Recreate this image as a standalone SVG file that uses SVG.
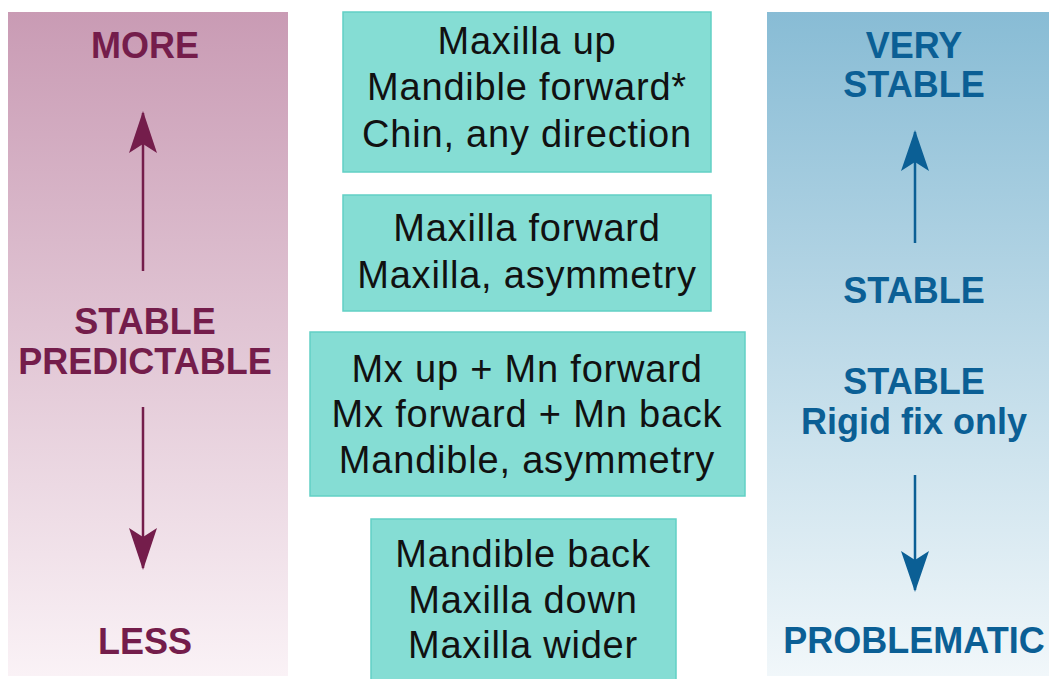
<svg xmlns="http://www.w3.org/2000/svg" width="1049" height="679" viewBox="0 0 1049 679">
<defs>
<linearGradient id="gl" x1="0" y1="0" x2="0" y2="1"><stop offset="0" stop-color="#c99bb4"/><stop offset="1" stop-color="#faf2f6"/></linearGradient>
<linearGradient id="gr" x1="0" y1="0" x2="0" y2="1"><stop offset="0" stop-color="#88bcd5"/><stop offset="1" stop-color="#f1f7fa"/></linearGradient>
<style>
.box{fill:#85ddd4;stroke:#62d0c5;stroke-width:1.5}
.mt{font-family:"Liberation Sans",Arial,sans-serif;font-size:38px;letter-spacing:0.8px;fill:#111;text-anchor:middle}
.lp{font-family:"Liberation Sans",Arial,sans-serif;font-size:36px;font-weight:bold;fill:#741d4b;text-anchor:middle}
.rb{font-family:"Liberation Sans",Arial,sans-serif;font-size:36px;font-weight:bold;fill:#0b5f95;text-anchor:middle}
</style>
</defs>
<rect width="1049" height="679" fill="#ffffff"/>
<g id="left-panel">
<rect x="8" y="12" width="280" height="664" fill="url(#gl)"/>
<text class="lp" x="145" y="58">MORE</text>
<text class="lp" x="145" y="334">STABLE</text>
<text class="lp" x="145" y="374">PREDICTABLE</text>
<text class="lp" x="145" y="654">LESS</text>
</g>
<g id="right-panel">
<rect x="767" y="12" width="282" height="664" fill="url(#gr)"/>
<text class="rb" x="914" y="58">VERY</text>
<text class="rb" x="914" y="97">STABLE</text>
<text class="rb" x="914" y="303">STABLE</text>
<text class="rb" x="914" y="394">STABLE</text>
<text class="rb" x="914" y="434">Rigid fix only</text>
<text class="rb" x="914" y="653">PROBLEMATIC</text>
</g>
<g id="box1">
<rect class="box" x="343" y="12" width="368" height="160"/>
<text class="mt" x="527" y="54">Maxilla up</text>
<text class="mt" x="527" y="100">Mandible forward*</text>
<text class="mt" x="527" y="147">Chin, any direction</text>
</g>
<g id="box2">
<rect class="box" x="343" y="195" width="368" height="116"/>
<text class="mt" x="527" y="241">Maxilla forward</text>
<text class="mt" x="527" y="288">Maxilla, asymmetry</text>
</g>
<g id="box3">
<rect class="box" x="310" y="332" width="435" height="164"/>
<text class="mt" x="527" y="382">Mx up + Mn forward</text>
<text class="mt" x="527" y="427">Mx forward + Mn back</text>
<text class="mt" x="527" y="473">Mandible, asymmetry</text>
</g>
<g id="box4">
<rect class="box" x="371" y="519" width="305" height="165"/>
<text class="mt" x="523" y="567">Mandible back</text>
<text class="mt" x="523" y="613">Maxilla down</text>
<text class="mt" x="523" y="658">Maxilla wider</text>
</g>
<g id="connectors" stroke-width="2.5">
<line x1="143" y1="271" x2="143" y2="113" stroke="#741d4b"/>
<path d="M143,111 L157,153 L143,144 L129,153 Z" fill="#741d4b"/>
<line x1="143" y1="407" x2="143" y2="568" stroke="#741d4b"/>
<path d="M143,570 L157,528 L143,537 L129,528 Z" fill="#741d4b"/>
<line x1="915" y1="243" x2="915" y2="132" stroke="#0b5f95"/>
<path d="M915,130 L929,171 L915,162 L901,171 Z" fill="#0b5f95"/>
<line x1="915" y1="475" x2="915" y2="590" stroke="#0b5f95"/>
<path d="M915,592 L929,551 L915,560 L901,551 Z" fill="#0b5f95"/>
</g>
</svg>
